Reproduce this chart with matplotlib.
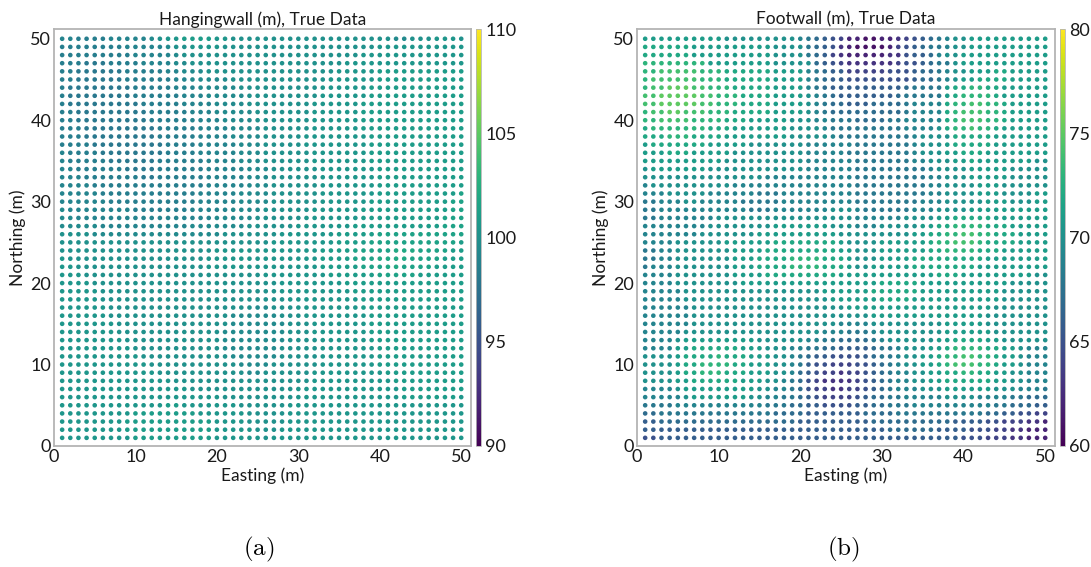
import numpy as np
import matplotlib
matplotlib.use("Agg")
import matplotlib.pyplot as plt

plt.rcParams["font.family"] = ["Lato", "DejaVu Sans"]
plt.rcParams["mathtext.fontset"] = "cm"

# Grid of sample locations (metres)
eastings = list(range(1, 51))
northings = list(range(50, 0, -1))  # row order below: north to south

# Hangingwall elevation, one character per sample: value = 96 + 0.5 * (code - 'A')
hangingwall_rows = [
    "GGFFFFGGGG GHIJJKKKKJ JIIIIIIIII IIIIIIIIII IHHIIIJJJI",
    "FFFFFFFFGG GGGHIIJJJJ IIIIIIIIII IIIIIIIIIJ JJJJJJJJJJ",
    "FFFFFFFFFG GGGGHIIIII IIIIIIIIII IIIIIIIJJJ JJJJJJJJJJ",
    "FFFEEEFFFF GGGGHHIIII IIIIIIIIII IIIIIJJJJJ JJJJJJJJJJ",
    "FFEEEEEEFF FFFGGHHHII IIIIIIIIII IIIIJJJJJK KKKKKKKKKK",
    "FFEEEEEEFF FFFFGGHHHH HIIIIIIIII IIIJJJJJJK KKKKKKKKKK",
    "FEEEEEEEEF FFFFGGGHHH HHIIIIIIII IIJJJJJJKK KKKKKKKKKK",
    "FEEEEEEEEF FFFFFGGGHH HHHIIIIIII IIJJJJJJKK KKKKKKKKKK",
    "FEEEEEEEEE FFFFFGGGGH HHHIIIIIII IJJJJJJKKK KKKKKKKKKK",
    "FFEEEEEEEE EFFFFFGGGH HHHHIIIIII IJJJJJJKKK KKKKKKKKKK",
    "FFEEEEEEEE EFFFFFGGGG HHHHIIIIII IJJJJJJKKK KKKKKKKKKK",
    "FFFEEEEEEE EEFFFFFGGG GHHHHIIIII IJJJJJJKKK KKKKKKKKKK",
    "FFFEEEEEEE EEFFFFFGGG GHHHHIIIII JJJJJJJJKK KKKKKKKKKK",
    "FFFFEEEEEE EEEFFFFGGG GGHHHIIIII JJJJJJJJKK KKKKKKKKKK",
    "GFFFFEEEEE EEEFFFFGGG GGHHHIIIII IJJJJJJJKK KKKKKKKKKK",
    "GFFFFFEEEE EEFFFFFFGG GGHHHIIIII IJJJJJJJKK KKKKKKKKKK",
    "GGFFFFFFEE EEFFFFFFGG GGGHHHIIII IIJJJJJJJK KKKKKKKKKK",
    "GGGFFFFFFF EEFFFFFFGG GGGHHHIIII IIJJJJJJJK KKKKKKKKKK",
    "GGGGFFFFFF FFFFFFFFGG GGGHHHIIII IIJJJJJJJK KKKKKKKKKK",
    "GGGGGFFFFF FFFFFFFGGG GGHHHHIIII IIJJJJJJJK KKKKKKKKKL",
    "GGGGGGFFFF FFFFFFFGGG GGHHHHIIII IIJJJJJJKK KKKKKKKKLL",
    "HGGGGGGGGF FFFFFFGGGG GHHHHIIIII IJJJJJJKKK KKKKKKKKLL",
    "HHGGGGGGGG GGGGGGGGGH HHHHIIIIII JJJJJJJKKK KKKKKKKLLL",
    "HHHHHGGGGG GGGGGGHHHH HHHIIIIIIJ JJJJJJKKKK KKKKKKKLLL",
    "IIIIHHHHHH HHHHHHHHHH IIIIIIIJJJ JJJJKKKKKL LLLLLLLLLL",
    "IIIIIIIIII IIIIIIIIII IIIIIIJJJJ JJJJKKKKLL LLLLLLLLLK",
    "IIIIIIIIII IIIIIIIIIJ JJJJJJJJJJ JJKKKKLLLL LMMMLLLLKK",
    "JIIIIIIIII IIIIIIIIJJ JJJJJJJJJJ JJKKKKLLLM MMMLLLLKKK",
    "JJIIIIIIII IIIIIIIIJJ JJJJJJJJJJ JJKKKKKLLL MMLLLLKKKK",
    "JJJIIIIIII IIIIIIIIII IIIIIJJJJJ JJJKKKKKKL LLLLKKKKKK",
    "JJJJIIIIII IIIIIIIIII IIIIIIIJJJ JJJJJKKKKK KKKKKKKKKK",
    "JJJJJIIIII IIIIIIIIII IIIIIIIJJJ JJJJJJKKKK KKKKKKKKKK",
    "JJJJJIIIII IIIIIIIIII IIIIIIIIJJ JJJJJJJKKK KKKKKKKKKK",
    "JJJJJJIIII IIIIIIIIII IIIIHHIIIJ JJJJJJJKKK KKKKKKKKKK",
    "JJJJJJIIII IIIIIIIIII IHHHHHHIII JJJJJJJJKK KKKKKKKKKK",
    "JJJJJJJIII IIIIIIIIII IHHHHHHHII IJJJJJJJKK KKKKKKKKKK",
    "JJJJJJJIII IIIIIIIIII HHHHHHHHII IJJJJJJJKK KKKKKKKKKK",
    "JJJJJJJJII IIIIIIIIII HHHHHHHHII IIJJJJJJKK KKKKKKKKKK",
    "JJJJJJJJJI IIIIIIIIII HHHHHHHIII IIJJJJJJJK KKKKKKKKKK",
    "JJJJJJJJJJ IIIIIIIIII IHHHHHHIII IIJJJJJJJK KKKKKKKKKK",
    "JJJJJJJJJJ JIIIIIIIII IIHHHHIIII IIJJJJJJJK KKKKKKKKKK",
    "JJJJJJJJJJ JJIIIIIIII IIIHHIIIII IJJJJJJJJJ KKKKKKKKKK",
    "JJJJJJJJJJ JJJJIIIIII IIIIIIIIII IJJJJJJJJJ JKKKKKKKKK",
    "JJJJJJJJJJ JJJJJJIIII IIIIIIIIIJ JJJJJJJJJJ JJKKKKKKKK",
    "JJJJJJJJJJ JJJJJJJJJJ IIIIIIIIIJ JJJJJJJJJJ JJKKKKKKKJ",
    "JJJJJJJJJJ JJJKKJJJJJ JJIIIIIIJJ JJJJJJJJJJ JJJJJJJJJJ",
    "JJJJJJJJJK KKKKKKKJJJ JJJIIIIIJJ JJJJJJJJJJ JJJJJJJJJJ",
    "JJJJJJJJKK KKKKKKKKKJ JJJIIIIIJJ JJJJJJJJJJ JJJJJJJJJJ",
    "JJJJJJJJKK KKKKKKKKKJ JJJJIIIJJJ JJJJJJJJJJ JJJJJJJJJJ",
    "JJJJJJJJJK KKKKKKKKKJ JJJJJIJJJJ JJJJJJJJJJ JJJJJJJJJJ",
]

# Footwall elevation, one character per sample: value = 60 + (code - 'A')
footwall_rows = [
    "LLLLLLLLLL KKKKKKKKK JIHGFE CCBBCCDEFGHIJKK LLLLLLLLLL",
    "MMMMMM LLLLLLLLLL KKKK IHGFD CBBBBC EFGHIIJ KKLLLLLLLLLL",
    "MMMMMM LLLLLLLLLL KKKK IHGED CCCCCDD FGGH JKKLLLLLLLLLLL",
    "NNNNNNNN LLLLLLLL KKKKK HGFE DDDDDD EFFG HII KLLLLLLLLLLL",
    "NNO OOOON NN MMMMMM LLLL JIH GGE EEEEFFF GHHI JKKL LLMMLLLLL",
    "NOOOOOONNN MMMMMM LLLL JIH GGF FFFFFFF GHHI JKLL MMMMLLLLL",
    "NOOPPPOONN NMMMMM LLLL JIH GGG GGGGGG HIIII LMMNNMM LLLLLL",
    "OOPPPPPOON NNMMMM LLLL KJI HGG GGGGGH IIIII LMNNNNM LLLLLL",
    "OOPPPPPOON NNMMMM LLLL KJI HHG GGHHHH IJJJJ MNNOONN MLLLLL",
    "NOOPPOOONN NMMMMM LLLL KJI HHH HHHHHH IJJJJ MNOOONN MLLLLL",
    "NNOOOONNNN MMMLLLLL KKKJJ III HHHHII JJJJJ MNOOONN MLLLLL",
    "MNNNNNNNMM MLLLLLLL KKKKJ III IIIIII JJJJK MNNONNM LLLLLL",
    "MMMNNNMMMM LLLLLLLL KKKKK JII IIIIIII JKKKK MMMMM LLLLLLL",
    "LMMMMMMMLL LLLKKKKKKK JJJJJJ IIIIIII JKKKL MMMMM LLLLLLL",
    "LLLMMMLLLL LKKKKKKKKK JJJJJI IIIIIII JKKKL LMMML LLLLLLL",
    "LLLLLLLLLL KKKKKKKKKK JJJJJJ IIIIIII JJKKK LLMLL LLLLLKK",
    "KLLLLLLLKK KKKKKKKKKK JJJJJJ IIIIIIIII JKKKK LLLLL KKKKK",
    "KKKKKKKKKK KKKKKJJJJJ JJJJJJ IIIIIIIII JJKKK LLLLL KKKKK",
    "JKKKKKKKKK KJJJJJJJJJ JJJJJJ IIIIIIIII JJKKK KLLLK KKKKK",
    "JJJKKKKKJJ JJJJIIIJJJ JJJJJJ IIIIIIIII JJKKK KLLLK KKKLL",
    "IIJJJKKJJJ JJIIIIIJJJ JJJJJJ IIIIIIIIJ JJKKK KKLLL KKKLL",
    "IIJJJJJJJJ JJJIIIJJJJ JJJKKK JIIIIIIJJ JKKKK LLLLL LLLLL",
    "IIJJJJJJJK KKKKKKKKKK KKKKKK JJJJJJKKK KLLMM MMMLL LLLLL",
    "JJJJJJJJKK KKKKKKLLLL LLLKKK JJJKKKKKL LMMNN NNMMM LLLLL",
    "JJJJJJJKKK KKKKLLLLLL LLLLKK KKKKKKKLL MMNNO ONNMM MLLLL",
    "JJJJKKKKKK LLLLLLMMMM MMMMLK KKKLLLLLL MNNOO ONMMM MLLLL",
    "IIJJKKKKKK KLLLLMMMMM MMMMLL KKKLLLLLL MMNNN NMMML LLLLL",
    "IIJJKKKKKK KLLLMMMMNN NNMMML KKKLLLLMM MMMMM MMLLL LLLLL",
    "IJJJKKKKKK KLLLMMMMNN NNMMML KKLLLLLMM MMMMM MLLLL LLLLL",
    "JJJJKKKKKK KLLLLMMMMM MMMMLL LLLLLLLLL LMMML LLLLL LLLKK",
    "JJJJKKKKKK KKLLLLLLLL LLLLLL LLLMMMMML LLLLL LLLLL KKKKK",
    "JJJJJKKKKK KKKKKKKKKK KKLLLL LLMMMMMML LLLLL LLLLK KKKKK",
    "JJJJJKKKKK KKKKKKKKKK KKKLLL LLLMMMMLL LLLLL LLLLK KKKKK",
    "JJJJJJKKKK KKKKKKKKKK KKKKKL LLLLLLLLL LLLLL LLLKK KKKKK",
    "JJJJJJKKKK KKKKKKKKKK KKKKKK KKLLLLLLL LLLLL LLKKK KKKKK",
    "JJJJJJKKKK KKKKKKKKKK KKKKJJ JJKKKKKKK KKLLL LLKKK KKKKK",
    "JJJJJKKKKK KKKKKKKKKK KKJJJI IIJKKKKKK KKLLL LLLKK KKKKK",
    "JJJJKLLLLL LLLLKKKKKK JJIIHH HHIJKKKKK KLLMM MMLLK KKKKK",
    "JJJJLLMMMM MMLLLKKKJJ IIHHGG GGHIIJKKK LLMNN NNMML LKJJJ",
    "KKKKLMMMMN MMMLLLKKJI HGGFFF FGHIIJKKL LMNNO ONNML LKJJJ",
    "KKKKLMMNNN NMMLLLKKJI GFFEEE FFGHIJKKL LMNOO ONNML LKJJJ",
    "KKKKLMMNNN MMMLLLKKJH GFEEDE EFGHIJJKK LLMMN NMMLL KKJJJ",
    "KKKKLLMMMM MMLLLKKJIH FEDDDD EFGHIJJKK LLMMM MMMLL KKJJJ",
    "JJJJKLLLLL LLLLKKJJIH FEEDDE EFGHIJJJK KKLLL LLLKK KJJJI",
    "JJJJJKLLLL LLLKKJJIIH GFEEEE FGHHIIJJJ JJKKK KJJJJ IIHHH",
    "IIIIJJJJJJ JJJJJIIIHH GGFFFF GGHHIIIJJ JJJJJ JJJII HHHGG",
    "HHIIIIIIII IIIIIIHHHH GGGGGG GHHHHIIII IIIII IIHHG GFFEE",
    "GGHHHHHHHH HHHHHHHHHG GGGGGG GGHHHHHHH HHHGG GGFFE EEDDC",
    "GGGGGGGGGG GGGGGGGGGG GGGGGG GGGGHHHHH HGGGG FFFEE DDCCC",
    "FFGGGGGGGG GGGGGGGGGG GGGGGG GGGGGGGGG GGGGF FFEEE DDCCC",
]

hw_range = (90, 110)
fw_range = (60, 80)
hw_ticks = [90, 95, 100, 105, 110]
fw_ticks = [60, 65, 70, 75, 80]
axis_ticks = [0, 10, 20, 30, 40, 50]


def decode(rows, base, step):
    xs, ys, vs = [], [], []
    for yv, row in zip(northings, rows):
        codes = row.replace(" ", "")
        assert len(codes) == len(eastings), (yv, len(codes))
        for xv, ch in zip(eastings, codes):
            xs.append(xv)
            ys.append(yv)
            vs.append(base + step * (ord(ch) - ord("A")))
    return np.array(xs), np.array(ys), np.array(vs)


hw_x, hw_y, hw_v = decode(hangingwall_rows, 96.0, 0.5)
fw_x, fw_y, fw_v = decode(footwall_rows, 60.0, 1.0)

W, H = 1091, 567
fig = plt.figure(figsize=(W / 100, H / 100), dpi=100)

spine_col = "#b4b4b4"
text_col = "#1a1a1a"


def px_rect(left, top, right, bottom):
    return [left / W, 1 - bottom / H, (right - left) / W, (bottom - top) / H]


def panel(ax_rect, cb_rect, xs, ys, vs, vrange, cticks, title):
    ax = fig.add_axes(px_rect(*ax_rect))
    sc = ax.scatter(xs, ys, c=vs, cmap="viridis", vmin=vrange[0], vmax=vrange[1],
                    s=11, linewidths=0)
    ax.set_xlim(0, 51.2)
    ax.set_ylim(0, 51.2)
    ax.set_xticks(axis_ticks)
    ax.set_yticks(axis_ticks)
    ax.tick_params(length=0, labelsize=13, colors=text_col, pad=2)
    for sp in ax.spines.values():
        sp.set_color(spine_col)
        sp.set_linewidth(1.3)
    ax.set_title(title, fontsize=12.5, color=text_col, pad=3)
    ax.set_xlabel("Easting (m)", fontsize=12.5, color=text_col, labelpad=2)
    ax.set_ylabel("Northing (m)", fontsize=12.5, color=text_col, labelpad=3)

    cax = fig.add_axes(px_rect(*cb_rect))
    cb = fig.colorbar(sc, cax=cax, ticks=cticks)
    cb.outline.set_edgecolor(spine_col)
    cb.outline.set_linewidth(0.6)
    cax.tick_params(length=0, labelsize=13, colors=text_col, pad=3)
    return ax


panel((54, 29, 471, 446), (476, 29, 481, 446), hw_x, hw_y, hw_v, hw_range, hw_ticks,
      "Hangingwall (m), True Data")
panel((637, 29, 1055, 446), (1060, 29, 1065, 446), fw_x, fw_y, fw_v, fw_range, fw_ticks,
      "Footwall (m), True Data")

fig.text(259 / W, 1 - 549 / H, r"$\mathrm{(a)}$", ha="center", va="center", fontsize=18)
fig.text(843 / W, 1 - 549 / H, r"$\mathrm{(b)}$", ha="center", va="center", fontsize=18)

fig.savefig("out.png", dpi=100)
